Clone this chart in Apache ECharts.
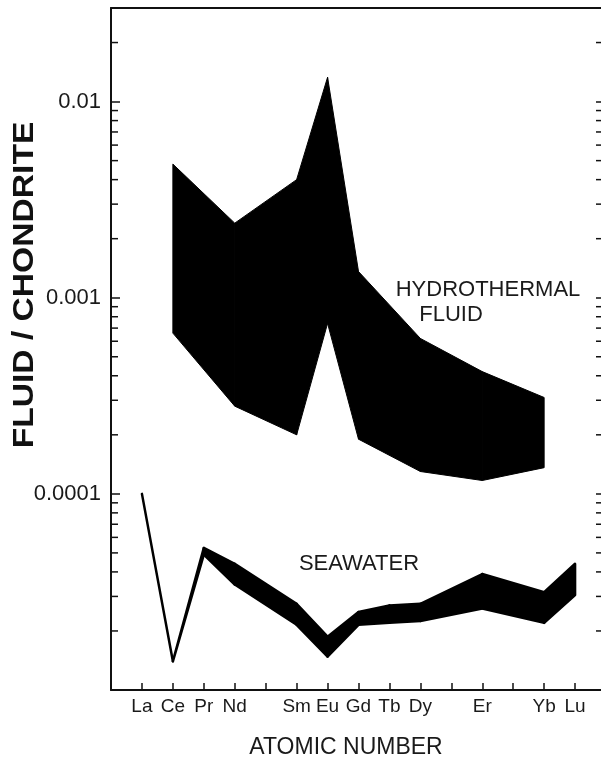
<!DOCTYPE html>
<html>
<head>
<meta charset="utf-8">
<script src="https://cdn.jsdelivr.net/npm/echarts@6/dist/echarts.min.js"></script>
<style>
  html, body { margin: 0; padding: 0; background: #ffffff; }
  #chart { width: 601px; height: 760px; }
</style>
</head>
<body>
<div id="chart"></div>
<script>
// Rare earth elements along the x axis (atomic number -> symbol; blank = unlabelled)
const atomicNumbers = [57, 58, 59, 60, 61, 62, 63, 64, 65, 66, 67, 68, 69, 70, 71];
const elementLabels = ['La', 'Ce', 'Pr', 'Nd', '', 'Sm', 'Eu', 'Gd', 'Tb', 'Dy', '', 'Er', '', 'Yb', 'Lu'];

// Labelled decades of the log axis
const yTickValues = [0.0001, 0.001, 0.01];
const yTickLabels = ['0.0001', '0.001', '0.01'];

// Hydrothermal fluid envelope (fluid / chondrite)
const fluidZ    = [58, 60, 62, 63, 64, 66, 68, 70];
const fluidHigh = [0.0048, 0.0024, 0.0040, 0.0133, 0.00136, 0.00062, 0.00042, 0.00031];
const fluidLow  = [0.00066, 0.00028, 0.00020, 0.00074, 0.00019, 0.00013, 0.000117, 0.000136];

// Seawater envelope (fluid / chondrite)
const seawaterZ    = [57, 58, 59, 60, 62, 63, 64, 65, 66, 68, 70, 71];
const seawaterHigh = [1.0e-4, 1.4e-5, 5.3e-5, 4.4e-5, 2.75e-5, 1.87e-5, 2.5e-5, 2.7e-5, 2.75e-5, 3.9e-5, 3.15e-5, 4.4e-5];
const seawaterLow  = [1.0e-4, 1.4e-5, 4.9e-5, 3.45e-5, 2.15e-5, 1.48e-5, 2.15e-5, 2.2e-5, 2.25e-5, 2.6e-5, 2.2e-5, 3.05e-5];

// Minor tick positions of the log axis: 2..9 times each decade
const minorMantissas = [2, 3, 4, 5, 6, 7, 8, 9];
const minorDecades = [1e-5, 1e-4, 1e-3, 1e-2];
const minorTicks = [];
minorDecades.forEach(d => minorMantissas.forEach(m => {
  const v = m * d;
  if (v < 0.025) minorTicks.push(v);
}));

const X_MIN = 56, X_MAX = 72;
const INK = '#111111';
const TEXT = '#1a1a1a';
const FONT = '"Liberation Sans", Arial, Helvetica, sans-serif';

function elementFor(v) {
  const i = atomicNumbers.indexOf(Math.round(v));
  if (i < 0 || Math.abs(v - Math.round(v)) > 1e-6) return '';
  return elementLabels[i];
}

function decadeLabel(v) {
  for (let i = 0; i < yTickValues.length; i++) {
    if (Math.abs(Math.log10(v) - Math.log10(yTickValues[i])) < 1e-6) return yTickLabels[i];
  }
  return '';
}

// Filled envelope between an upper and a lower curve, one quad per segment
function bandSeries(name, z, hi, lo, strokeWidth) {
  return {
    type: 'custom',
    name: name,
    coordinateSystem: 'cartesian2d',
    silent: true,
    clip: false,
    data: z.map((x, i) => [x, hi[i], lo[i]]),
    encode: { x: 0, y: [1, 2] },
    renderItem: function (params, api) {
      const i = params.dataIndex;
      if (i >= z.length - 1) return null;
      const pts = [
        api.coord([z[i], hi[i]]),
        api.coord([z[i + 1], hi[i + 1]]),
        api.coord([z[i + 1], lo[i + 1]]),
        api.coord([z[i], lo[i]])
      ];
      return {
        type: 'polygon',
        shape: { points: pts },
        style: { fill: '#000', stroke: '#000', lineWidth: strokeWidth, lineJoin: 'round' }
      };
    }
  };
}

const chart = echarts.init(document.getElementById('chart'), null, { renderer: 'canvas' });

chart.setOption({
  backgroundColor: '#ffffff',
  animation: false,
  grid: { left: 111, right: -5, top: 8, bottom: 70, containLabel: false, outerBoundsMode: 'none' },
  xAxis: [
    {
      type: 'value', min: X_MIN, max: X_MAX, interval: 1, position: 'bottom',
      axisLine: { show: true, lineStyle: { color: INK, width: 2 } },
      axisTick: { show: true, inside: true, length: 7, lineStyle: { color: INK, width: 1.5 } },
      axisLabel: {
        formatter: elementFor, margin: 7,
        fontFamily: FONT, fontSize: 19, color: TEXT
      },
      splitLine: { show: false }
    },
    {
      type: 'value', min: X_MIN, max: X_MAX, position: 'top',
      axisLine: { show: true, lineStyle: { color: INK, width: 2 } },
      axisTick: { show: false }, axisLabel: { show: false }, splitLine: { show: false }
    }
  ],
  yAxis: [
    {
      type: 'log', logBase: 10, min: 1e-5, max: 0.03, position: 'left',
      axisLine: { show: true, lineStyle: { color: INK, width: 2 } },
      axisTick: { show: true, inside: true, length: 9, lineStyle: { color: INK, width: 1.5 } },
      axisLabel: {
        formatter: decadeLabel, margin: 10,
        fontFamily: FONT, fontSize: 22, color: TEXT
      },
      splitLine: { show: false }
    },
    {
      type: 'log', logBase: 10, min: 1e-5, max: 0.03, position: 'right',
      axisLine: { show: false },
      axisTick: { show: true, inside: true, length: 10, lineStyle: { color: INK, width: 1.5 } },
      axisLabel: { show: false }, splitLine: { show: false }
    }
  ],
  series: [
    bandSeries('Hydrothermal fluid', fluidZ, fluidHigh, fluidLow, 1),
    bandSeries('Seawater', seawaterZ, seawaterHigh, seawaterLow, 2.5),
    {
      // minor ticks on both vertical axes
      type: 'custom',
      name: 'minor ticks',
      coordinateSystem: 'cartesian2d',
      silent: true,
      clip: false,
      data: minorTicks.map(v => [X_MIN, v]),
      renderItem: function (params, api) {
        const v = api.value(1);
        const l = api.coord([X_MIN, v]);
        const r = api.coord([X_MAX, v]);
        const ls = { stroke: INK, lineWidth: 1.5 };
        return {
          type: 'group',
          children: [
            { type: 'line', shape: { x1: l[0], y1: l[1], x2: l[0] + 7, y2: l[1] }, style: ls },
            { type: 'line', shape: { x1: r[0], y1: r[1], x2: r[0] - 10, y2: r[1] }, style: ls }
          ]
        };
      }
    }
  ],
  graphic: [
    {
      type: 'text', x: 25, y: 285, rotation: Math.PI / 2, scaleX: 1.12,
      style: { text: 'FLUID / CHONDRITE', font: 'bold 30px ' + FONT, fill: INK, align: 'center', verticalAlign: 'middle' }
    },
    {
      type: 'text', x: 346, y: 748,
      style: { text: 'ATOMIC NUMBER', font: '23px ' + FONT, fill: TEXT, align: 'center', verticalAlign: 'middle' }
    },
    {
      type: 'text', x: 488, y: 290,
      style: { text: 'HYDROTHERMAL', font: '22px ' + FONT, fill: TEXT, align: 'center', verticalAlign: 'middle' }
    },
    {
      type: 'text', x: 451, y: 315,
      style: { text: 'FLUID', font: '22px ' + FONT, fill: TEXT, align: 'center', verticalAlign: 'middle' }
    },
    {
      type: 'text', x: 359, y: 564,
      style: { text: 'SEAWATER', font: '22px ' + FONT, fill: TEXT, align: 'center', verticalAlign: 'middle' }
    }
  ]
});
</script>
</body>
</html>
